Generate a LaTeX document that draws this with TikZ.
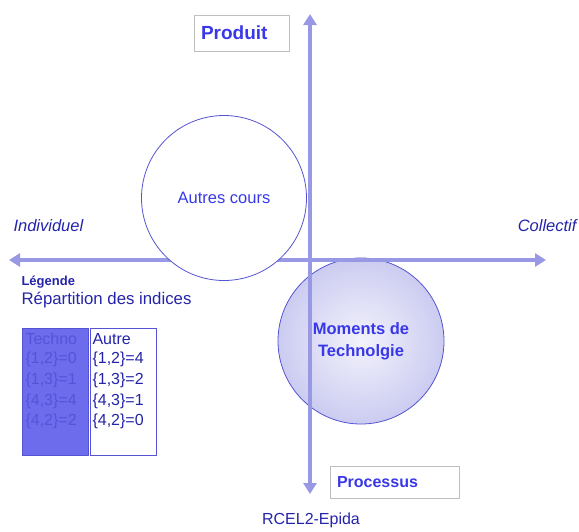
\documentclass[tikz,border=0pt]{standalone}
\usepackage{fontspec}
\setmainfont{Liberation Sans}
\usetikzlibrary{arrows.meta}
\definecolor{axe}{RGB}{152,152,228}
\definecolor{bleu}{RGB}{36,36,170}
\definecolor{bleuvif}{RGB}{56,56,232}
\definecolor{bord}{RGB}{84,84,210}
\definecolor{techno}{RGB}{108,108,236}
\definecolor{technotxt}{RGB}{84,84,218}

\begin{document}
\begin{tikzpicture}[x=1pt,y=-1pt,
    axe/.style={draw=axe,line width=3.2pt,{Triangle[length=11pt,width=13pt]}-{Triangle[length=11pt,width=13pt]}},
    titre/.style={draw=black!25,text=bleuvif,inner sep=7pt,align=left,font=\fontsize{16}{19}\bfseries},
    rond/.style={circle,draw=bord,line width=0.8pt,text=bleuvif},
    ligne/.style={anchor=west,font=\fontsize{16}{19}\selectfont}]
\useasboundingbox (0,0) rectangle (579,531);

% cercle du bas, sous les axes
\node (moments) at (361,341) [rond,minimum size=166pt,inner color=axe!12,outer color=axe!50,
      align=center,font=\fontsize{16.5}{22}\bfseries] {Moments de\\Technolgie};

% axes
\coordinate (N) at (310,14);
\coordinate (S) at (310,494);
\coordinate (W) at (9,260);
\coordinate (E) at (546,260);
\draw[axe] (S) -- (N);
\draw[axe] (W) -- (E);

\node (autres) at (224,198) [rond,fill=white,minimum size=165pt,font=\fontsize{16.5}{20}\selectfont] {Autres cours};

\node (produit) at (241.5,33) [titre,text width=81pt,minimum height=36pt,font=\fontsize{19}{22}\bfseries] {Produit};
\node (processus) at (394.5,482) [titre,text width=115pt,minimum height=32pt] {Processus};

\node (indiv) at (10,226) [anchor=west,text=bleu,font=\fontsize{16.5}{20}\itshape] {Individuel};
\node (collec) at (580,226) [anchor=east,text=bleu,font=\fontsize{16.5}{20}\itshape] {Collectif};

% legende
\node (legende) at (18,282) [anchor=west,text=bleu,font=\fontsize{13}{15}\bfseries] {Légende};
\node (repart) at (18,300) [anchor=west,text=bleu,font=\fontsize{16.8}{20}\selectfont] {Répartition des indices};

\draw[draw=bord,fill=techno] (22,328) rectangle (88,455);
\draw[draw=bord,fill=white] (90,328) rectangle (156,455);
\foreach \i/\a/\b in {0/Techno/Autre,1/{\{1,2\}=0}/{\{1,2\}=4},2/{\{1,3\}=1}/{\{1,3\}=2},
                      3/{\{4,3\}=4}/{\{4,3\}=1},4/{\{4,2\}=2}/{\{4,2\}=0}} {
  \node (t\i) at (22,339+20.7*\i) [ligne,text=technotxt] {\a};
  \node (a\i) at (89,339+20.7*\i) [ligne,text=bleu] {\b};
}

\node (source) at (311,520) [text=bleu,font=\fontsize{16}{19}\selectfont] {RCEL2-Epida};
\end{tikzpicture}
\end{document}
